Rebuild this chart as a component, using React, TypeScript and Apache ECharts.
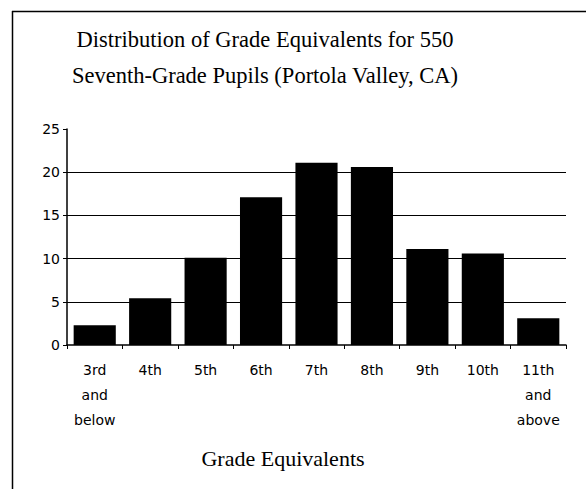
import React, { useEffect, useRef } from "react";
import * as echarts from "echarts";

const categories = ["3rd\nand\nbelow", "4th", "5th", "6th", "7th", "8th", "9th", "10th", "11th\nand\nabove"];
const percents = [2.3, 5.4, 10.1, 17.1, 21.1, 20.6, 11.1, 10.6, 3.1];
const gridValues = [5, 10, 15, 20];
const titleText = "Distribution of Grade Equivalents for 550\nSeventh-Grade Pupils (Portola Valley, CA)";
const xAxisTitle = "Grade Equivalents";

const SERIF = "'Liberation Serif', 'Times New Roman', serif";
const SANS = "'DejaVu Sans', sans-serif";

export default function App() {
  const ref = useRef<HTMLDivElement>(null);
  useEffect(() => {
    document.body.style.margin = "0";
    const chart = echarts.init(ref.current!, null, { renderer: "svg" });
    chart.setOption({
      animation: false,
      backgroundColor: "#ffffff",
      grid: { left: 67, right: 20, top: 129, bottom: 144, containLabel: false },
      xAxis: {
        type: "category",
        data: categories,
        axisLine: { lineStyle: { color: "#000", width: 1.5 } },
        axisTick: { show: true, length: 4, lineStyle: { color: "#000", width: 1 } },
        axisLabel: {
          interval: 0,
          color: "#000",
          fontFamily: SANS,
          fontSize: 14,
          lineHeight: 25,
          margin: 12,
        },
      },
      yAxis: {
        type: "value",
        min: 0,
        max: 25,
        interval: 5,
        axisLine: { show: true, lineStyle: { color: "#000", width: 1.5 } },
        axisTick: { show: true, length: 4, lineStyle: { color: "#000", width: 1 } },
        axisLabel: { color: "#000", fontFamily: SANS, fontSize: 14, margin: 7 },
        splitLine: { show: false },
      },
      series: [
        {
          type: "bar",
          data: percents,
          barCategoryGap: "24%",
          itemStyle: { color: "#000" },
          markLine: {
            silent: true,
            symbol: "none",
            label: { show: false },
            lineStyle: { color: "#000", width: 1, type: "solid" },
            data: gridValues.map((v) => ({ yAxis: v })),
          },
        },
      ],
      graphic: [
        {
          type: "line",
          shape: { x1: 12, y1: 11.5, x2: 586, y2: 11.5 },
          style: { stroke: "#000", lineWidth: 1.5 },
        },
        {
          type: "line",
          shape: { x1: 12.5, y1: 11, x2: 12.5, y2: 489 },
          style: { stroke: "#000", lineWidth: 1.5 },
        },
        {
          type: "text",
          x: 265,
          y: 21,
          style: {
            text: titleText,
            textAlign: "center",
            textVerticalAlign: "top",
            fontFamily: SERIF,
            fontSize: 22.5,
            lineHeight: 36,
            fill: "#000",
          },
        },
        {
          type: "text",
          x: 283,
          y: 458,
          style: {
            text: xAxisTitle,
            textAlign: "center",
            textVerticalAlign: "middle",
            fontFamily: SERIF,
            fontSize: 22,
            fill: "#000",
          },
        },
      ],
    });
    return () => chart.dispose();
  }, []);
  return <div ref={ref} style={{ position: "absolute", left: 0, top: 0, width: 586, height: 489 }} />;
}
